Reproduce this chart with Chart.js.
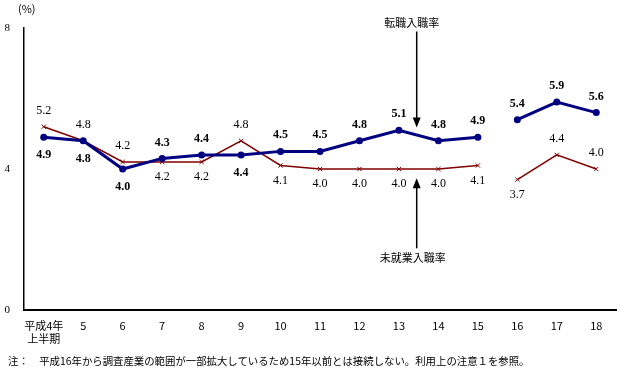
<!DOCTYPE html>
<html lang="ja">
<head>
<meta charset="utf-8">
<script src="https://cdn.jsdelivr.net/npm/chart.js@4"></script>
<style>
  html, body { margin: 0; padding: 0; background: #fff; }
  #wrap { position: relative; width: 621px; height: 383px; }
  canvas { position: absolute; left: 0; top: 0; }
  .txt { position: absolute; font-family: "Noto Sans CJK JP", sans-serif; font-size: 11px; color: #000; white-space: nowrap; line-height: 1; }
</style>
</head>
<body>
<div id="wrap">
  <canvas id="c" width="621" height="383"></canvas>
  <div class="txt" style="left:18px; top:3px;">(%)</div>
  <div class="txt" style="left:8px; top:356px; font-size:10.4px;">注：　平成16年から調査産業の範囲が一部拡大しているため15年以前とは接続しない。利用上の注意１を参照。</div>
</div>
<script>
// ---- data ----
const categories = [['平成4年', '上半期'], '5', '6', '7', '8', '9', '10', '11', '12', '13', '14', '15', '16', '17', '18'];
const tenshokuRate = [4.9, 4.8, 4.0, 4.3, 4.4, 4.4, 4.5, 4.5, 4.8, 5.1, 4.8, 4.9, 5.4, 5.9, 5.6];   // 転職入職率
const mishugyoRate = [5.2, 4.8, 4.2, 4.2, 4.2, 4.8, 4.1, 4.0, 4.0, 4.0, 4.0, 4.1, 3.7, 4.4, 4.0];   // 未就業入職率
const seriesBreakIndex = 12; // series not connected between 15 and 16
const yTicks = [0, 4, 8];
const seriesNames = ['転職入職率', '未就業入職率'];

// label placement (above / below point)
const tenshokuLabelSide = ['b','b','b','a','a','b','a','a','a','a','a','a','a','a','a'];
const mishugyoLabelSide = ['a','a','a','b','b','a','b','b','b','b','b','b','b','a','a'];

function part(arr, before) {
  return arr.map((v, i) => (before ? (i < seriesBreakIndex ? v : null) : (i >= seriesBreakIndex ? v : null)));
}

const BLUE = '#000080';
const RED = '#800000';

const blueStyle = { borderColor: BLUE, backgroundColor: BLUE, borderWidth: 3, pointRadius: 3.5, pointBorderWidth: 0, pointStyle: 'circle', pointBackgroundColor: BLUE, pointBorderColor: BLUE, spanGaps: false, tension: 0 };
const redStyle = { borderColor: RED, backgroundColor: RED, borderWidth: 1.5, pointRadius: 3, pointStyle: 'crossRot', pointBorderColor: RED, pointBorderWidth: 1, spanGaps: false, tension: 0 };

const labelPlugin = {
  id: 'labels',
  afterDatasetsDraw(chart) {
    const ctx = chart.ctx;
    const xs = chart.scales.x, ys = chart.scales.y;
    ctx.save();
    ctx.textAlign = 'center';
    ctx.textBaseline = 'middle';
    ctx.fillStyle = '#000';
    // value labels
    ctx.font = 'bold 12px "Liberation Serif", serif';
    tenshokuRate.forEach((v, i) => {
      const px = xs.getPixelForValue(i), py = ys.getPixelForValue(v);
      ctx.fillText(v.toFixed(1), px, py + (tenshokuLabelSide[i] === 'a' ? -16 : 18));
    });
    ctx.font = '12px "Liberation Serif", serif';
    mishugyoRate.forEach((v, i) => {
      const px = xs.getPixelForValue(i), py = ys.getPixelForValue(v);
      ctx.fillText(v.toFixed(1), px, py + (mishugyoLabelSide[i] === 'a' ? -16 : 15));
    });
    // arrows and annotations
    const ax = xs.getPixelForValue(9.45);
    ctx.strokeStyle = '#000';
    ctx.lineWidth = 1.5;
    function arrow(y1, y2) {
      const p1 = ys.getPixelForValue(y1), p2 = ys.getPixelForValue(y2);
      const dir = p2 > p1 ? 1 : -1;
      ctx.beginPath();
      ctx.moveTo(ax, p1);
      ctx.lineTo(ax, p2 - dir * 8);
      ctx.stroke();
      ctx.beginPath();
      ctx.moveTo(ax, p2);
      ctx.lineTo(ax - 4, p2 - dir * 10);
      ctx.lineTo(ax + 4, p2 - dir * 10);
      ctx.closePath();
      ctx.fill();
    }
    arrow(7.9, 5.18);
    arrow(1.75, 3.74);
    ctx.font = '11px "Noto Sans CJK JP", sans-serif';
    ctx.fillText(seriesNames[0], ax - 5, ys.getPixelForValue(8.15));
    ctx.fillText(seriesNames[1], ax - 4, ys.getPixelForValue(1.47));
    ctx.restore();
  }
};

new Chart(document.getElementById('c'), {
  type: 'line',
  data: {
    labels: categories,
    datasets: [
      Object.assign({ label: seriesNames[0], data: part(tenshokuRate, true) }, blueStyle),
      Object.assign({ label: seriesNames[0] + 'B', data: part(tenshokuRate, false) }, blueStyle),
      Object.assign({ label: seriesNames[1], data: part(mishugyoRate, true) }, redStyle),
      Object.assign({ label: seriesNames[1] + 'B', data: part(mishugyoRate, false) }, redStyle)
    ]
  },
  options: {
    responsive: false,
    animation: false,
    layout: { padding: { top: 28, right: 4, left: 0, bottom: 0 } },
    plugins: { legend: { display: false }, tooltip: { enabled: false } },
    scales: {
      x: {
        offset: true,
        grid: { display: false, drawTicks: false },
        border: { display: true, color: '#000', width: 2 },
        ticks: { color: '#000', font: { size: 11, family: '"Noto Sans CJK JP", sans-serif' }, padding: 9, maxRotation: 0, autoSkip: false },
        afterFit(s) { s.height = 73; s.paddingLeft = 0; s.paddingRight = 0; }
      },
      y: {
        min: 0, max: 8,
        grid: { display: false, drawTicks: false },
        border: { display: true, color: '#000', width: 1.5 },
        afterBuildTicks(s) { s.ticks = yTicks.map(v => ({ value: v })); },
        ticks: { color: '#000', font: { size: 11, family: '"Liberation Serif", serif' }, padding: 14 },
        afterFit(s) { s.width = 24; }
      }
    }
  },
  plugins: [labelPlugin]
});
</script>
</body>
</html>
